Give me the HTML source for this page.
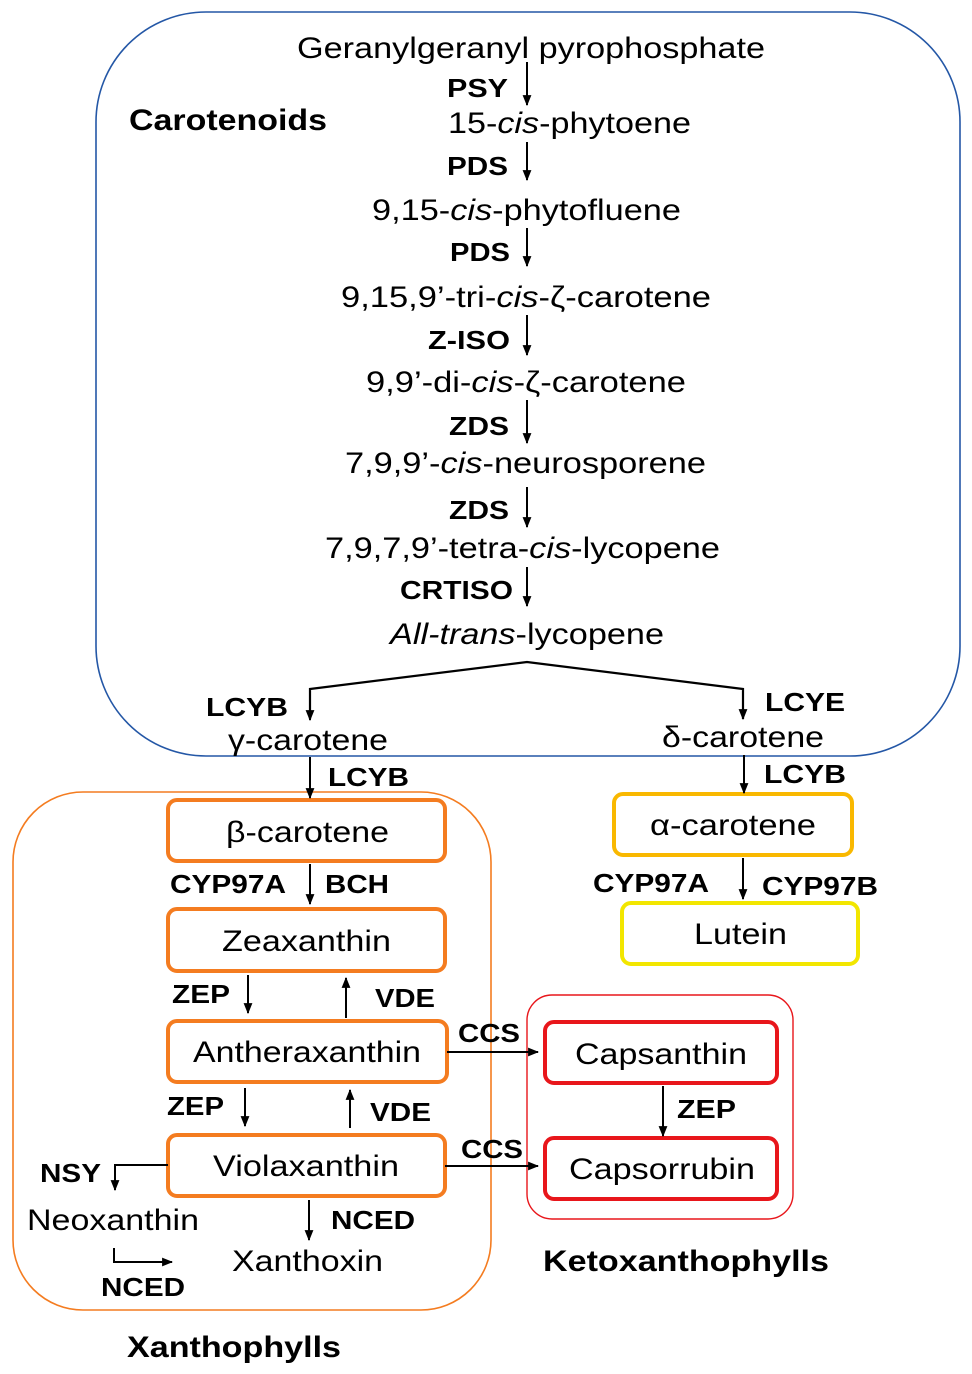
<!DOCTYPE html>
<html><head><meta charset="utf-8"><style>
html,body{margin:0;padding:0;background:#fff}
svg{display:block}
text{font-family:"Liberation Sans",Arial,sans-serif;fill:#000}
.n{font-size:30px}
.b{font-size:26px;font-weight:bold}
.h{font-size:30px;font-weight:bold}
</style></head><body>
<svg width="972" height="1374" viewBox="0 0 972 1374" xmlns="http://www.w3.org/2000/svg">
<defs>
<marker id="m" viewBox="0 0 10 10" refX="9" refY="5" markerWidth="11" markerHeight="11" orient="auto" markerUnits="userSpaceOnUse">
<path d="M0,1 L10,5 L0,9 z" fill="#000"/></marker>
</defs>
<rect x="96" y="12" width="864" height="744" rx="110" fill="none" stroke="#2457a6" stroke-width="1.6"/>
<rect x="13" y="792" width="478" height="518" rx="70" fill="none" stroke="#f47c20" stroke-width="1.6"/>
<rect x="527" y="995" width="266" height="224" rx="25" fill="none" stroke="#e8161b" stroke-width="1.4"/>

<g fill="none" stroke-width="4">
<rect x="168" y="800" width="277" height="61" rx="9" stroke="#f47c20"/>
<rect x="168" y="909" width="277" height="62" rx="9" stroke="#f47c20"/>
<rect x="168" y="1021" width="279" height="61" rx="9" stroke="#f47c20"/>
<rect x="168" y="1135" width="277" height="61" rx="9" stroke="#f47c20"/>
<rect x="614" y="794" width="238" height="61" rx="9" stroke="#f9b800"/>
<rect x="622" y="903" width="236" height="61" rx="9" stroke="#f2e600"/>
<rect x="545" y="1022" width="232" height="61" rx="9" stroke="#e8161b"/>
<rect x="545" y="1138" width="232" height="61" rx="9" stroke="#e8161b"/>
</g>

<g stroke="#000" stroke-width="2" fill="none">
<line x1="527" y1="62" x2="527" y2="105" marker-end="url(#m)"/>
<line x1="527" y1="142" x2="527" y2="180" marker-end="url(#m)"/>
<line x1="527" y1="228" x2="527" y2="266" marker-end="url(#m)"/>
<line x1="527" y1="315" x2="527" y2="355" marker-end="url(#m)"/>
<line x1="527" y1="400" x2="527" y2="443" marker-end="url(#m)"/>
<line x1="527" y1="487" x2="527" y2="527" marker-end="url(#m)"/>
<line x1="527" y1="567" x2="527" y2="606" marker-end="url(#m)"/>
<polyline points="310,719 310,689 527,662 743,689 743,719" marker-end="url(#m)" stroke-width="2.2"/>
<line x1="310" y1="719" x2="310" y2="720" marker-end="url(#m)"/>
<line x1="310" y1="757" x2="310" y2="798" marker-end="url(#m)"/>
<line x1="744" y1="755" x2="744" y2="793" marker-end="url(#m)"/>
<line x1="310" y1="864" x2="310" y2="904" marker-end="url(#m)"/>
<line x1="743" y1="858" x2="743" y2="899" marker-end="url(#m)"/>
<line x1="248" y1="975" x2="248" y2="1013" marker-end="url(#m)"/>
<line x1="346" y1="1018" x2="346" y2="978" marker-end="url(#m)"/>
<line x1="245" y1="1088" x2="245" y2="1126" marker-end="url(#m)"/>
<line x1="350" y1="1128" x2="350" y2="1090" marker-end="url(#m)"/>
<line x1="663" y1="1086" x2="663" y2="1136" marker-end="url(#m)"/>
<line x1="447" y1="1052" x2="538" y2="1052" marker-end="url(#m)"/>
<line x1="445" y1="1166" x2="538" y2="1166" marker-end="url(#m)"/>
<polyline points="168,1165 115,1165 115,1190" marker-end="url(#m)"/>
<line x1="309" y1="1200" x2="309" y2="1240" marker-end="url(#m)"/>
<polyline points="114,1248 114,1262 172,1262" marker-end="url(#m)"/>
</g>

<text class="h" x="129" y="130" textLength="198" lengthAdjust="spacingAndGlyphs">Carotenoids</text>
<text class="n" x="297" y="58" textLength="468" lengthAdjust="spacingAndGlyphs">Geranylgeranyl pyrophosphate</text>
<text class="b" x="447" y="97" textLength="61" lengthAdjust="spacingAndGlyphs">PSY</text>
<text class="n" x="448" y="133" textLength="243" lengthAdjust="spacingAndGlyphs">15-<tspan font-style="italic">cis</tspan>-phytoene</text>
<text class="b" x="447" y="175" textLength="61" lengthAdjust="spacingAndGlyphs">PDS</text>
<text class="n" x="372" y="220" textLength="309" lengthAdjust="spacingAndGlyphs">9,15-<tspan font-style="italic">cis</tspan>-phytofluene</text>
<text class="b" x="450" y="261" textLength="60" lengthAdjust="spacingAndGlyphs">PDS</text>
<text class="n" x="341" y="307" textLength="370" lengthAdjust="spacingAndGlyphs">9,15,9’-tri-<tspan font-style="italic">cis</tspan>-ζ-carotene</text>
<text class="b" x="428" y="349" textLength="82" lengthAdjust="spacingAndGlyphs">Z-ISO</text>
<text class="n" x="366" y="392" textLength="320" lengthAdjust="spacingAndGlyphs">9,9’-di-<tspan font-style="italic">cis</tspan>-ζ-carotene</text>
<text class="b" x="449" y="435" textLength="60" lengthAdjust="spacingAndGlyphs">ZDS</text>
<text class="n" x="345" y="473" textLength="361" lengthAdjust="spacingAndGlyphs">7,9,9’-<tspan font-style="italic">cis</tspan>-neurosporene</text>
<text class="b" x="449" y="519" textLength="60" lengthAdjust="spacingAndGlyphs">ZDS</text>
<text class="n" x="325" y="558" textLength="395" lengthAdjust="spacingAndGlyphs">7,9,7,9’-tetra-<tspan font-style="italic">cis</tspan>-lycopene</text>
<text class="b" x="400" y="599" textLength="113" lengthAdjust="spacingAndGlyphs">CRTISO</text>
<text class="n" x="390" y="644" textLength="274" lengthAdjust="spacingAndGlyphs"><tspan font-style="italic">All-trans</tspan>-lycopene</text>
<text class="b" x="206" y="716" textLength="82" lengthAdjust="spacingAndGlyphs">LCYB</text>
<text class="b" x="765" y="711" textLength="80" lengthAdjust="spacingAndGlyphs">LCYE</text>
<text class="n" x="228" y="750" textLength="160" lengthAdjust="spacingAndGlyphs">γ-carotene</text>
<text class="n" x="662" y="747" textLength="162" lengthAdjust="spacingAndGlyphs">δ-carotene</text>
<text class="b" x="328" y="786" textLength="81" lengthAdjust="spacingAndGlyphs">LCYB</text>
<text class="b" x="764" y="783" textLength="82" lengthAdjust="spacingAndGlyphs">LCYB</text>
<text class="n" x="226" y="842" textLength="163" lengthAdjust="spacingAndGlyphs">β-carotene</text>
<text class="n" x="650" y="835" textLength="166" lengthAdjust="spacingAndGlyphs">α-carotene</text>
<text class="b" x="170" y="893" textLength="116" lengthAdjust="spacingAndGlyphs">CYP97A</text>
<text class="b" x="325" y="893" textLength="64" lengthAdjust="spacingAndGlyphs">BCH</text>
<text class="b" x="593" y="892" textLength="116" lengthAdjust="spacingAndGlyphs">CYP97A</text>
<text class="b" x="762" y="895" textLength="116" lengthAdjust="spacingAndGlyphs">CYP97B</text>
<text class="n" x="222" y="951" textLength="169" lengthAdjust="spacingAndGlyphs">Zeaxanthin</text>
<text class="n" x="694" y="944" textLength="93" lengthAdjust="spacingAndGlyphs">Lutein</text>
<text class="b" x="172" y="1003" textLength="58" lengthAdjust="spacingAndGlyphs">ZEP</text>
<text class="b" x="375" y="1007" textLength="60" lengthAdjust="spacingAndGlyphs">VDE</text>
<text class="n" x="193" y="1062" textLength="228" lengthAdjust="spacingAndGlyphs">Antheraxanthin</text>
<text class="b" x="458" y="1042" textLength="62" lengthAdjust="spacingAndGlyphs">CCS</text>
<text class="n" x="575" y="1064" textLength="172" lengthAdjust="spacingAndGlyphs">Capsanthin</text>
<text class="b" x="167" y="1115" textLength="57" lengthAdjust="spacingAndGlyphs">ZEP</text>
<text class="b" x="370" y="1121" textLength="61" lengthAdjust="spacingAndGlyphs">VDE</text>
<text class="b" x="677" y="1118" textLength="59" lengthAdjust="spacingAndGlyphs">ZEP</text>
<text class="n" x="213" y="1176" textLength="186" lengthAdjust="spacingAndGlyphs">Violaxanthin</text>
<text class="b" x="461" y="1158" textLength="62" lengthAdjust="spacingAndGlyphs">CCS</text>
<text class="n" x="569" y="1179" textLength="186" lengthAdjust="spacingAndGlyphs">Capsorrubin</text>
<text class="b" x="40" y="1182" textLength="61" lengthAdjust="spacingAndGlyphs">NSY</text>
<text class="n" x="27" y="1230" textLength="172" lengthAdjust="spacingAndGlyphs">Neoxanthin</text>
<text class="b" x="331" y="1229" textLength="84" lengthAdjust="spacingAndGlyphs">NCED</text>
<text class="n" x="232" y="1271" textLength="151" lengthAdjust="spacingAndGlyphs">Xanthoxin</text>
<text class="b" x="101" y="1296" textLength="84" lengthAdjust="spacingAndGlyphs">NCED</text>
<text class="h" x="543" y="1271" textLength="286" lengthAdjust="spacingAndGlyphs">Ketoxanthophylls</text>
<text class="h" x="127" y="1357" textLength="214" lengthAdjust="spacingAndGlyphs">Xanthophylls</text>
</svg>
</body></html>
